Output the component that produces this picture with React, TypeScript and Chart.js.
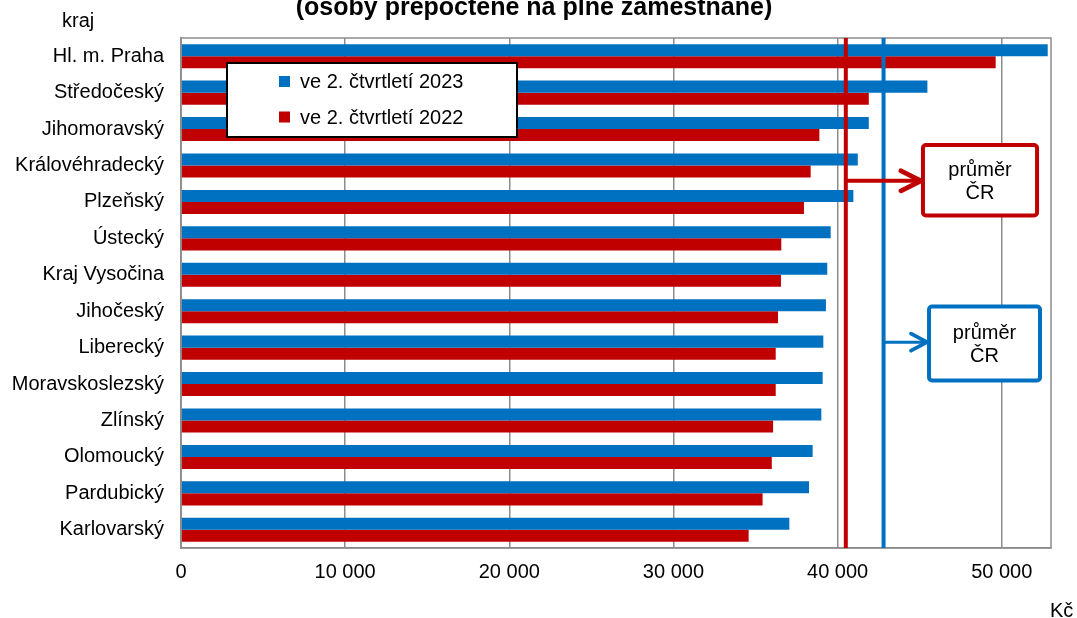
import React, { useEffect, useRef } from 'react';
import { Chart, registerables } from 'chart.js';

Chart.register(...registerables);

const categories = [
  'Hl. m. Praha',
  'Středočeský',
  'Jihomoravský',
  'Královéhradecký',
  'Plzeňský',
  'Ústecký',
  'Kraj Vysočina',
  'Jihočeský',
  'Liberecký',
  'Moravskoslezský',
  'Zlínský',
  'Olomoucký',
  'Pardubický',
  'Karlovarský',
];
const values2023 = [52800, 45470, 41900, 41230, 40960, 39580, 39370, 39290, 39130, 39090, 39010, 38480, 38260, 37060];
const values2022 = [49630, 41900, 38890, 38360, 37950, 36570, 36550, 36370, 36230, 36230, 36070, 35990, 35430, 34580];
const average2023 = 42800;
const average2022 = 40500;
const seriesLabels = ['ve 2. čtvrtletí 2023', 've 2. čtvrtletí 2022'];
const averageLabel = ['průměr', 'ČR'];
const titleText = '(osoby přepočtené na plně zaměstnané)';
const yAxisTitle = 'kraj';
const xAxisTitle = 'Kč';
const xTicks = [0, 10000, 20000, 30000, 40000, 50000];
const xMin = 0;
const xMax = 53000;

const BLUE = '#0070C0';
const RED = '#C00000';
const GRID = '#8c8c8c';
const FONT = "'Liberation Sans', Arial, sans-serif";

const formatThousands = (v: number) => String(v).replace(/\B(?=(\d{3})+(?!\d))/g, ' ');

const overlayPlugin = {
  id: 'overlay',
  afterDatasetsDraw(chart: any) {
    const { ctx, chartArea: a, scales } = chart;
    const x = scales.x;
    const y = scales.y;
    ctx.save();

    // plot border
    ctx.strokeStyle = GRID;
    ctx.lineWidth = 1.5;
    ctx.strokeRect(a.left, a.top, a.right - a.left, a.bottom - a.top);

    // average lines
    const vline = (val: number, color: string, w: number) => {
      const px = x.getPixelForValue(val);
      ctx.strokeStyle = color;
      ctx.lineWidth = w;
      ctx.beginPath();
      ctx.moveTo(px, a.top);
      ctx.lineTo(px, a.bottom);
      ctx.stroke();
      return px;
    };
    const redX = vline(average2022, RED, 4);
    const blueX = vline(average2023, BLUE, 4);

    const callout = (
      fromX: number,
      color: string,
      x0: number,
      x1: number,
      y0: number,
      y1: number,
      arrowY: number,
      lw: number,
      headLen: number,
      headHalf: number,
      boxLw: number
    ) => {
      const bl = x.getPixelForValue(x0);
      const br = x.getPixelForValue(x1);
      const bt = y.getPixelForValue(y0);
      const bb = y.getPixelForValue(y1);
      const ay = y.getPixelForValue(arrowY);
      ctx.strokeStyle = color;
      ctx.lineCap = 'round';
      ctx.lineJoin = 'round';
      ctx.lineWidth = lw;
      ctx.beginPath();
      ctx.moveTo(fromX, ay);
      ctx.lineTo(bl - 2, ay);
      ctx.stroke();
      ctx.lineWidth = lw + 0.8;
      ctx.beginPath();
      ctx.moveTo(bl - 2 - headLen, ay - headHalf);
      ctx.lineTo(bl - 2, ay);
      ctx.lineTo(bl - 2 - headLen, ay + headHalf);
      ctx.stroke();
      // box
      ctx.fillStyle = '#ffffff';
      ctx.lineWidth = boxLw;
      ctx.beginPath();
      ctx.roundRect(bl, bt, br - bl, bb - bt, 3);
      ctx.fill();
      ctx.stroke();
      ctx.fillStyle = '#000000';
      ctx.font = `20px ${FONT}`;
      ctx.textAlign = 'center';
      ctx.textBaseline = 'middle';
      const cx = (bl + br) / 2;
      const cy = (bt + bb) / 2;
      ctx.fillText(averageLabel[0], cx, cy - 10);
      ctx.fillText(averageLabel[1], cx, cy + 13);
    };
    callout(redX, RED, 45200, 52150, 2.44, 4.37, 3.42, 4, 20, 10, 4);
    callout(blueX, BLUE, 45570, 52330, 6.87, 8.9, 7.85, 3, 16, 8.5, 4);

    // legend
    const lx0 = a.left + 46;
    const ly0 = a.top + 25;
    const lw = 290;
    const lh = 74;
    ctx.fillStyle = '#ffffff';
    ctx.fillRect(lx0, ly0, lw, lh);
    ctx.strokeStyle = '#000000';
    ctx.lineWidth = 2;
    ctx.strokeRect(lx0, ly0, lw, lh);
    const items = [
      { label: seriesLabels[0], color: BLUE, cy: ly0 + 18.5 },
      { label: seriesLabels[1], color: RED, cy: ly0 + 54 },
    ];
    ctx.font = `20px ${FONT}`;
    ctx.textAlign = 'left';
    ctx.textBaseline = 'middle';
    items.forEach((it) => {
      ctx.fillStyle = it.color;
      ctx.fillRect(lx0 + 52, it.cy - 5.5, 11, 11);
      ctx.fillStyle = '#000000';
      ctx.fillText(it.label, lx0 + 73, it.cy + 1);
    });

    ctx.restore();
  },
  afterDraw(chart: any) {
    const { ctx } = chart;
    ctx.save();
    ctx.fillStyle = '#000000';
    ctx.textBaseline = 'alphabetic';
    ctx.textAlign = 'center';
    ctx.font = `bold 25px ${FONT}`;
    ctx.fillText(titleText, 534, 15);
    ctx.textAlign = 'left';
    ctx.font = `20px ${FONT}`;
    ctx.fillText(yAxisTitle, 62, 27);
    ctx.fillText(xAxisTitle, 1050, 617);
    ctx.restore();
  },
};

export default function App() {
  const ref = useRef<HTMLCanvasElement | null>(null);

  useEffect(() => {
    if (!ref.current) return;
    const chart = new Chart(ref.current, {
      type: 'bar',
      data: {
        labels: categories,
        datasets: [
          {
            label: seriesLabels[0],
            data: values2023,
            backgroundColor: BLUE,
            borderWidth: 0,
            categoryPercentage: 0.66,
            barPercentage: 1,
          },
          {
            label: seriesLabels[1],
            data: values2022,
            backgroundColor: RED,
            borderWidth: 0,
            categoryPercentage: 0.66,
            barPercentage: 1,
          },
        ],
      },
      options: {
        indexAxis: 'y',
        responsive: false,
        animation: false,
        devicePixelRatio: 1,
        layout: { padding: { left: 0, top: 38, right: 26, bottom: 0 } },
        plugins: {
          legend: { display: false },
          title: { display: false },
          tooltip: { enabled: false },
        },
        scales: {
          x: {
            type: 'linear',
            min: xMin,
            max: xMax,
            afterBuildTicks: (s: any) => {
              s.ticks = xTicks.map((v) => ({ value: v }));
            },
            afterFit: (s: any) => {
              s.height = 70;
            },
            ticks: {
              padding: 12,
              color: '#000000',
              font: { family: FONT, size: 20 },
              callback: (v: any) => formatThousands(Number(v)),
            },
            grid: { color: GRID, lineWidth: 1.5, drawTicks: false },
            border: { color: GRID, width: 1.5 },
          },
          y: {
            afterFit: (s: any) => {
              s.width = 181;
            },
            ticks: {
              padding: 17,
              color: '#000000',
              font: { family: FONT, size: 20 },
              autoSkip: false,
            },
            grid: { display: false, drawTicks: false },
            border: { display: true, color: GRID, width: 1.5 },
          },
        },
      },
      plugins: [overlayPlugin],
    } as any);
    return () => chart.destroy();
  }, []);

  return (
    <div style={{ position: 'fixed', left: 0, top: 0, width: 1077, height: 618, background: '#ffffff' }}>
      <canvas ref={ref} width={1077} height={618} style={{ display: 'block' }} />
    </div>
  );
}
